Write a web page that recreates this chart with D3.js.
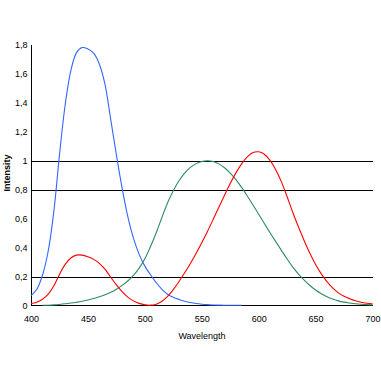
<!DOCTYPE html>
<html><head><meta charset="utf-8">
<script src="https://cdn.jsdelivr.net/npm/d3@7"></script>
<style>body{margin:0;background:#fff}svg{display:block}text{font-family:"Liberation Sans",Arial,sans-serif}</style>
</head><body><div id="c"></div>
<script>
const wavelengths = d3.range(400, 701, 5);
const xBar = [0.01431,0.02319,0.04351,0.07763,0.13438,0.21477,0.2839,0.3285,0.34828,0.34806,0.3362,0.3187,0.2908,0.2511,0.19536,0.1421,0.09564,0.05795,0.03201,0.0147,0.0049,0.0024,0.0093,0.0291,0.06327,0.1096,0.1655,0.22575,0.2904,0.3597,0.43345,0.51205,0.5945,0.6784,0.7621,0.8425,0.9163,0.9786,1.0263,1.0567,1.0622,1.0456,1.0026,0.9384,0.85445,0.7514,0.6424,0.5419,0.4479,0.3608,0.2835,0.2187,0.1649,0.1212,0.0874,0.0636,0.04677,0.0329,0.0227,0.01584,0.011359];
const yBar = [0.000396,0.00064,0.00121,0.00218,0.004,0.0073,0.0116,0.01684,0.023,0.0298,0.038,0.048,0.06,0.0739,0.09098,0.1126,0.13902,0.1693,0.20802,0.2586,0.323,0.4073,0.503,0.6082,0.71,0.7932,0.862,0.91485,0.954,0.9803,0.99495,1.0,0.995,0.9786,0.952,0.9154,0.87,0.8163,0.757,0.6949,0.631,0.5668,0.503,0.4412,0.381,0.321,0.265,0.217,0.175,0.1382,0.107,0.0816,0.061,0.04458,0.032,0.0232,0.017,0.01192,0.00821,0.005723,0.004102];
const zBar = [0.06785,0.1102,0.2074,0.3713,0.6456,1.03905,1.3856,1.62296,1.74706,1.7826,1.77211,1.7441,1.6692,1.5281,1.28764,1.0419,0.81295,0.6162,0.46518,0.3533,0.272,0.2123,0.1582,0.1117,0.07825,0.05725,0.04216,0.02984,0.0203,0.0134,0.00875,0.00575,0.0039,0.00275,0.0021,0.0018,0.00165,0.0014];
const xTicks = [400,450,500,550,600,650,700];
const yTicks = [0,0.2,0.4,0.6,0.8,1,1.2,1.4,1.6,1.8];
const gridValues = [0.2,0.8,1];

const W=381,H=381;
const svg=d3.select("#c").append("svg").attr("width",W).attr("height",H);
const x=d3.scaleLinear().domain([400,700]).range([31,372.5]);
const y=d3.scaleLinear().domain([0,1.8]).range([305.5,45]);
const fmt=v=>String(v).replace(".",",");

svg.append("g").selectAll("line").data(gridValues).join("line")
 .attr("x1",31).attr("x2",373).attr("y1",d=>Math.round(y(d))+0.5).attr("y2",d=>Math.round(y(d))+0.5)
 .attr("stroke","#000").attr("stroke-width",1);

const yAxis=svg.append("g").attr("transform","translate(31.5,0)")
 .call(d3.axisLeft(y).tickValues(yTicks).tickFormat(fmt).tickSize(0).tickPadding(4));
yAxis.select(".domain").attr("d","M0,"+y(1.8)+"V"+(y(0)+0.5)).attr("stroke","#000");
yAxis.selectAll("text").attr("font-size",9).attr("fill","#000");

const xAxis=svg.append("g").attr("transform","translate(0,305.5)")
 .call(d3.axisBottom(x).tickValues(xTicks).tickFormat(d3.format("d")).tickSize(0).tickPadding(10));
xAxis.select(".domain").attr("d","M31,0H373").attr("stroke","#000");
xAxis.selectAll("text").attr("font-size",9).attr("fill","#000");

const line=d3.line().x(d=>x(d[0])).y(d=>y(d[1])).curve(d3.curveCatmullRom);
const zData=zBar.map((v,i)=>[wavelengths[i],v]);
const yData=yBar.map((v,i)=>[wavelengths[i],v]).filter(d=>d[0]>=410);
const xData=xBar.map((v,i)=>[wavelengths[i],v]);
svg.append("path").datum(zData).attr("d",line).attr("fill","none").attr("stroke","#3366ff").attr("stroke-width",1.1);
svg.append("path").datum(yData).attr("d",line).attr("fill","none").attr("stroke","#2e8b63").attr("stroke-width",1.1);
svg.append("path").datum(xData).attr("d",line).attr("fill","none").attr("stroke","#ff0000").attr("stroke-width",1.1);

svg.append("text").attr("x",202).attr("y",339).attr("text-anchor","middle").attr("font-size",9).text("Wavelength");
svg.append("text").attr("transform","translate(10,173) rotate(-90)").attr("text-anchor","middle").attr("font-size",9).attr("font-weight","bold").text("Intensity");
</script></body></html>
